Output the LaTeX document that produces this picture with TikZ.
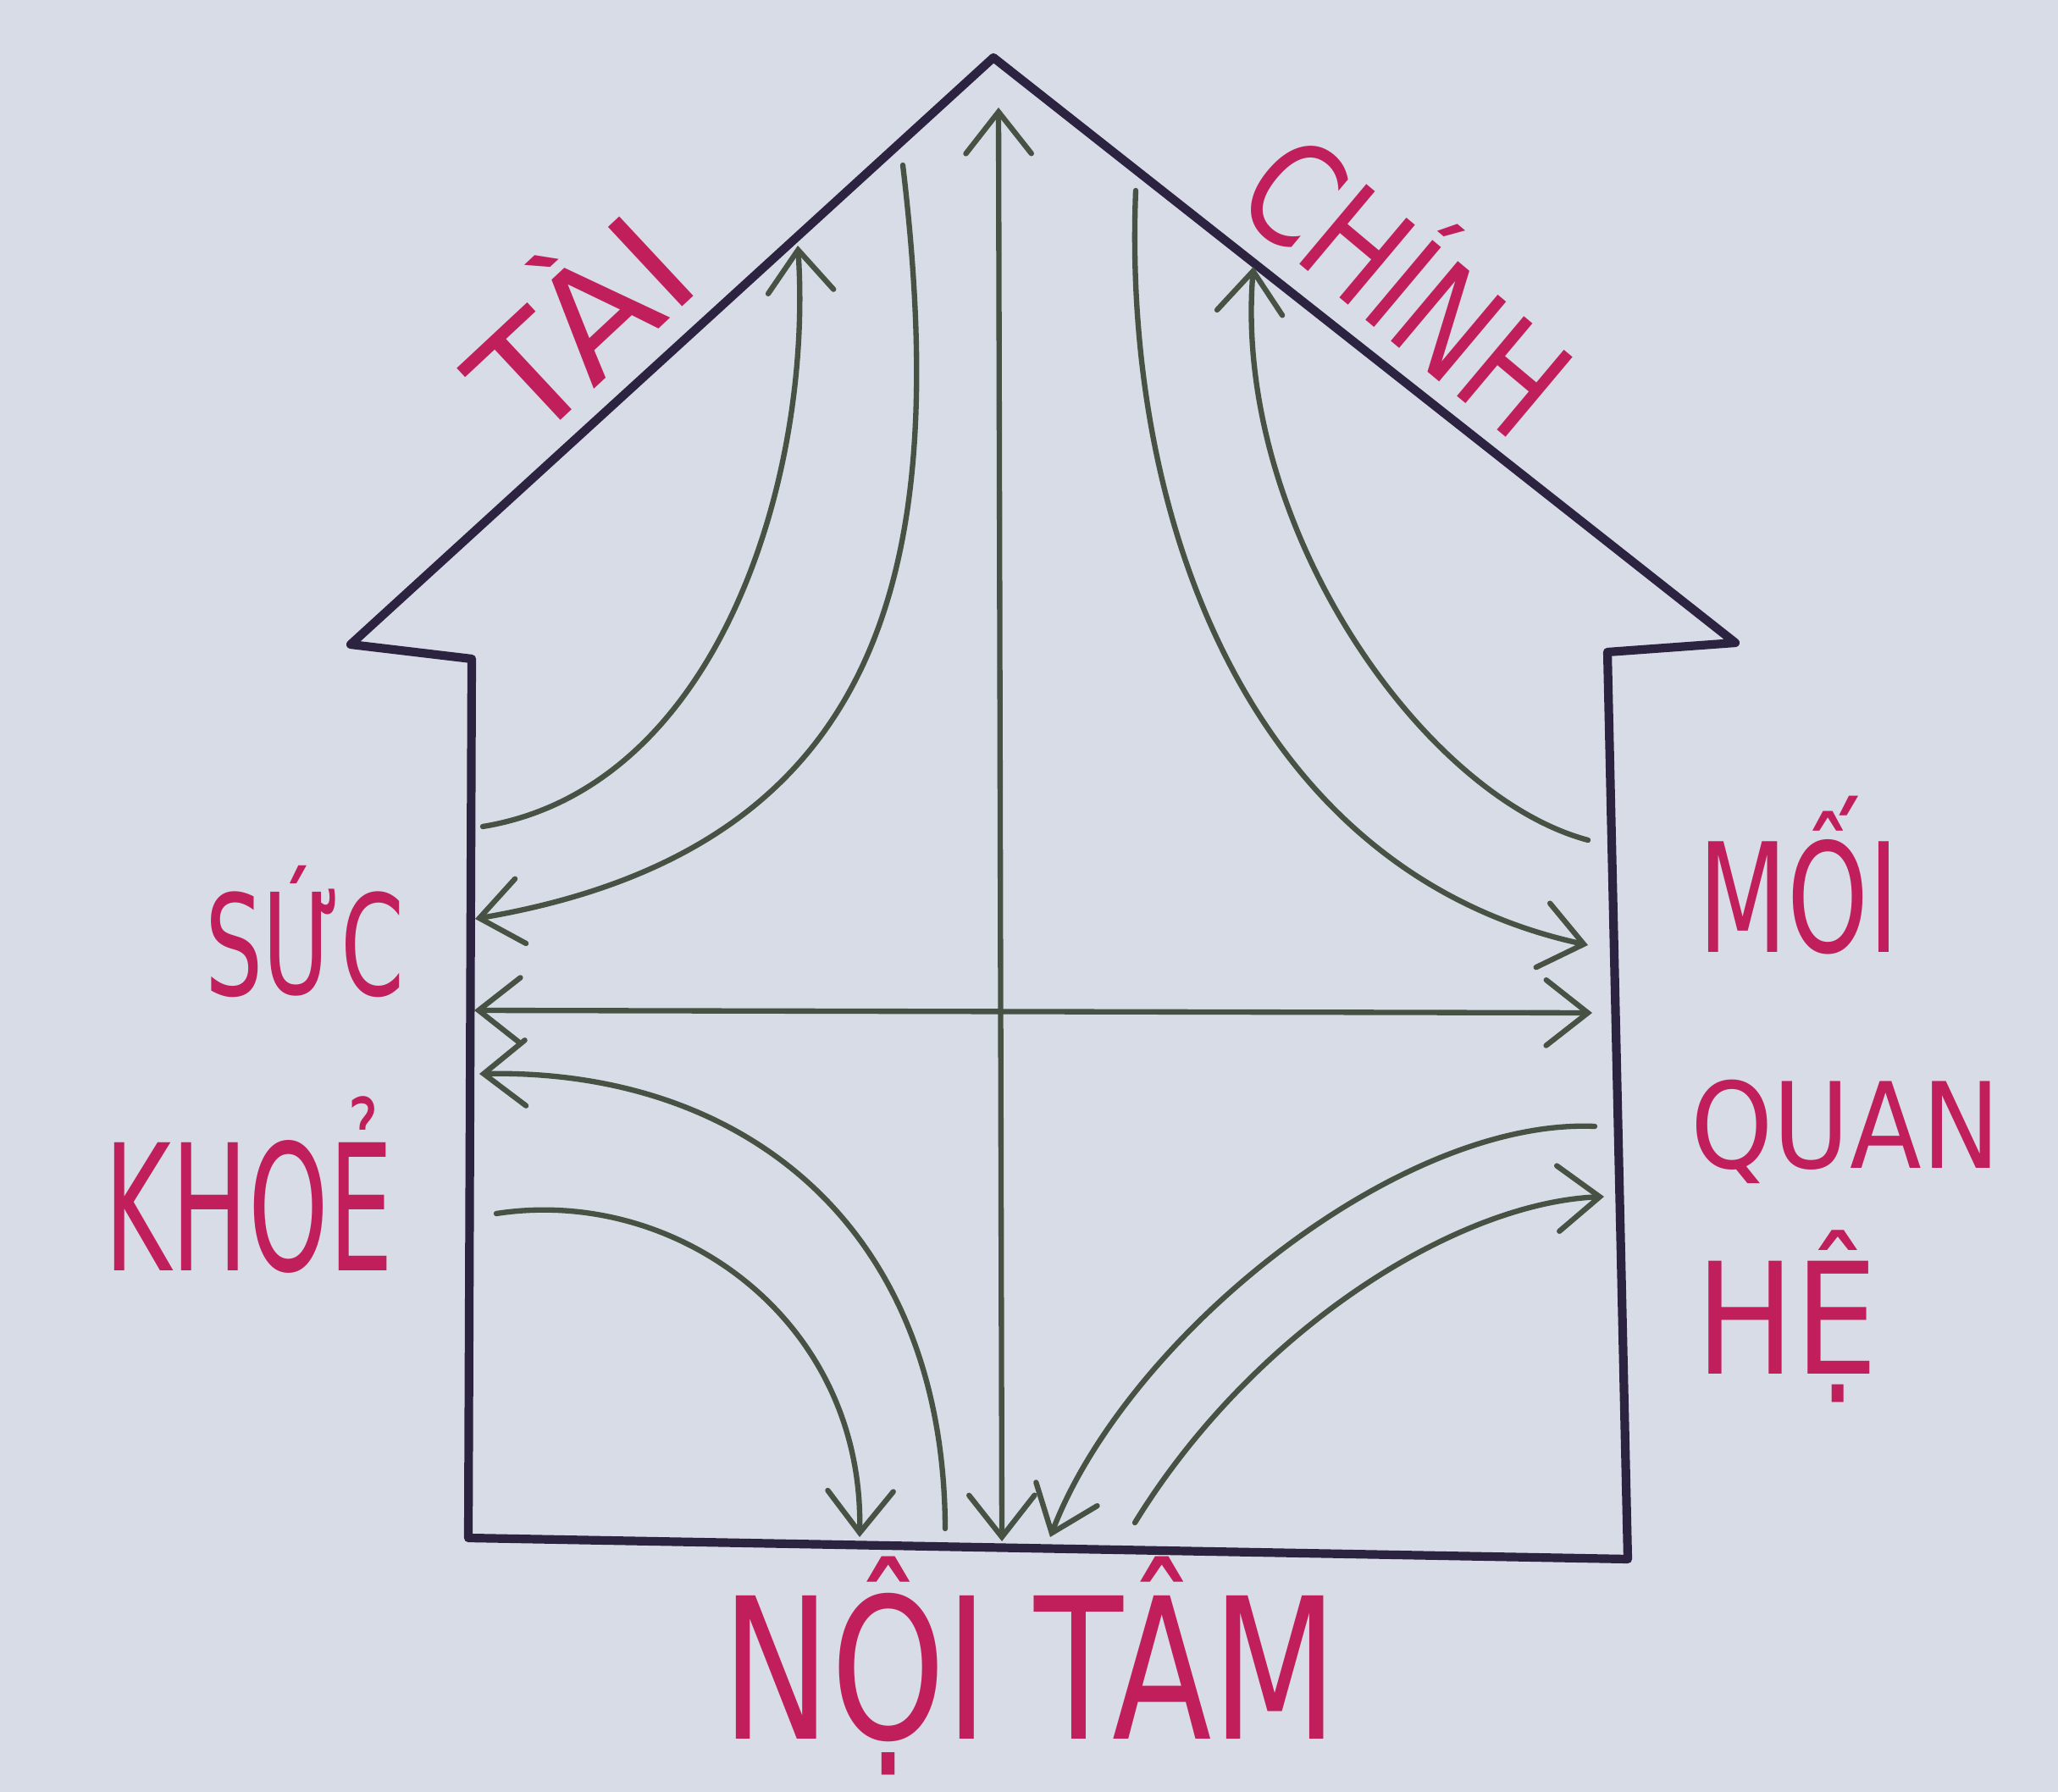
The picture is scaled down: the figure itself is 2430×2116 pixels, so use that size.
\documentclass[tikz,border=0pt]{standalone}
\usepackage{fontspec}
\usetikzlibrary{arrows.meta}
\newfontfamily\hand{DejaVu Sans}
\definecolor{paper}{RGB}{216,220,230}
\definecolor{ink}{RGB}{43,35,64}
\definecolor{pen}{RGB}{72,82,68}
\definecolor{mag}{RGB}{192,31,92}
\tikzset{
  wall/.style={draw=ink, line width=2.9pt, line join=round, line cap=round},
  flow/.style={draw=pen, line width=1.8pt, line cap=round},
  lbl/.style={text=mag, inner sep=0pt, anchor=base},
}
\newcommand{\handat}[1]{\hand\fontsize{#1}{#1}\selectfont}
\begin{document}
\begin{tikzpicture}[x=0.01cm, y=-0.01cm, >={Straight Barb[length=14pt,width=22pt,line cap=round]}]
\fill[paper] (0,0) rectangle (2430,2116);
\useasboundingbox (0,0) rectangle (2430,2116);

% house outline
\coordinate (apex) at (1173,68);
\coordinate (leave) at (414,761);
\coordinate (lwt) at (557,778);
\coordinate (lwb) at (553,1816);
\coordinate (rwb) at (1922,1841);
\coordinate (rwt) at (1898,770);
\coordinate (reave) at (2049,759);
\draw[wall] (apex) -- (leave) -- (lwt) -- (lwb) -- (rwb) -- (rwt) -- (reave) -- cycle;

% straight arrows
\coordinate (vt) at (1179,127);
\coordinate (vb) at (1183,1820);
\coordinate (hl) at (560,1193);
\coordinate (hr) at (1880,1196);
\draw[flow,<->] (vt) -- (vb);
\draw[flow,<->] (hl) -- (hr);

% upper left
\coordinate (a1s) at (570,976);   \coordinate (a1e) at (942,290);
\coordinate (a2s) at (1066,195);  \coordinate (a2e) at (561,1085);
\draw[flow,->] (a1s) .. controls (850,930) and (960,560) .. (a1e);
\draw[flow,->] (a2s) .. controls (1120,650) and (1060,1000) .. (a2e);
% upper right
\coordinate (a3s) at (1341,225);  \coordinate (a3e) at (1875,1116);
\coordinate (a4s) at (1875,992);  \coordinate (a4e) at (1480,315);
\draw[flow,->] (a3s) .. controls (1325,620) and (1480,1030) .. (a3e);
\draw[flow,->] (a4s) .. controls (1680,940) and (1455,620) .. (a4e);
% lower left
\coordinate (a5s) at (1116,1805); \coordinate (a5e) at (566,1268);
\coordinate (a6s) at (586,1433);  \coordinate (a6e) at (1015,1815);
\draw[flow,->] (a5s) .. controls (1115,1450) and (880,1262) .. (a5e);
\draw[flow,->] (a6s) .. controls (800,1400) and (1020,1560) .. (a6e);
% lower right
\coordinate (a7s) at (1883,1330); \coordinate (a7e) at (1240,1815);
\coordinate (a8s) at (1340,1798); \coordinate (a8e) at (1894,1413);
\draw[flow,->] (a7s) .. controls (1650,1320) and (1330,1580) .. (a7e);
\draw[flow,->] (a8s) .. controls (1480,1570) and (1720,1420) .. (a8e);

% labels
\node[lbl, rotate=43, font=\handat{50pt}] (tai) at (730,433) {\scalebox{1.05}[1]{TÀI}};
\node[lbl, rotate=-40, font=\handat{48pt}] (chinh) at (1620,384) {\scalebox{0.8}[1]{CHÍNH}};
\node[lbl, font=\handat{47pt}] (suc) at (360,1175) {\scalebox{0.65}[1]{SỨC}};
\node[lbl, font=\handat{59pt}] (khoe) at (294,1500) {\scalebox{0.58}[1]{KHOẺ}};
\node[lbl, font=\handat{51pt}] (moi) at (2124,1124) {\scalebox{0.68}[1]{MỐI}};
\node[lbl, font=\handat{40pt}] (quan) at (2179,1379) {\scalebox{0.88}[1]{QUAN}};
\node[lbl, font=\handat{52pt}] (he) at (2110,1622) {\scalebox{0.85}[1]{HỆ}};
\node[lbl, font=\handat{66pt}] (noitam) at (1216,2053) {\scalebox{0.74}[1]{NỘI TÂM}};
\end{tikzpicture}
\end{document}
